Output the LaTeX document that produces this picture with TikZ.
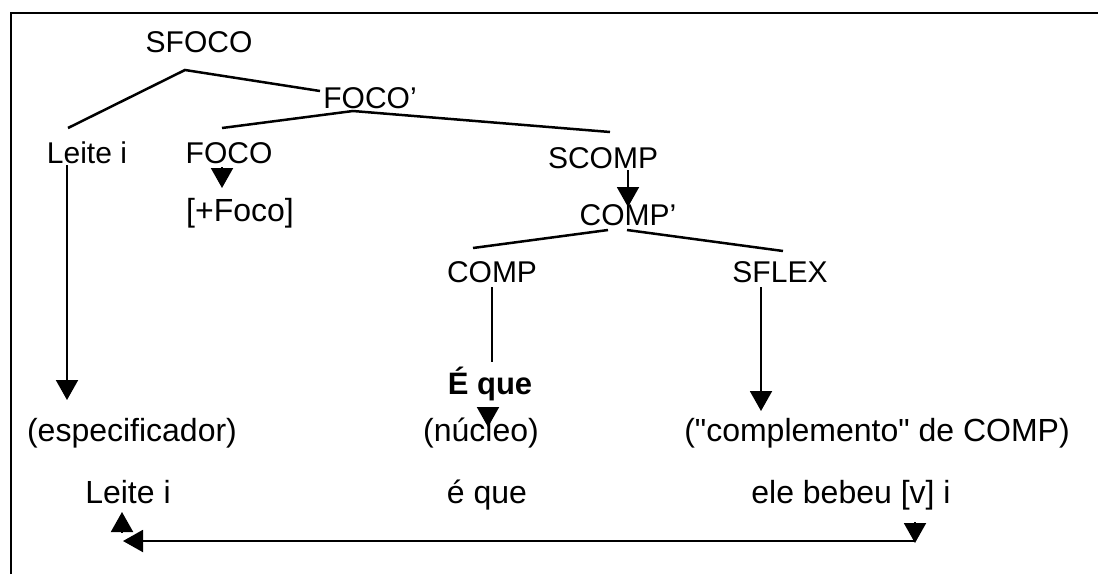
\documentclass[tikz,border=0pt]{standalone}
\usepackage{fontspec}
\setmainfont{Liberation Sans}[Ligatures=TeXOff]
\usetikzlibrary{arrows.meta}
\begin{document}
\begin{tikzpicture}[x=1pt,y=-1pt,
  lbl/.style={inner sep=0pt, anchor=base, font=\fontsize{30}{36}\selectfont},
  lbw/.style={inner sep=0pt, anchor=base, font=\fontsize{32}{38}\selectfont},
  edge/.style={line width=2.5pt},
  arr/.style={line width=2pt, -{Triangle[length=20pt,width=22pt]}},
  frame/.style={line width=2.6pt}]
\useasboundingbox (0,0) rectangle (1098,574);
\fill[white] (0,0) rectangle (1098,574);
\coordinate (fbl) at (11,574);
\coordinate (ftl) at (11,13);
\coordinate (ftr) at (1098,13);
\draw[frame] (fbl) -- (ftl) -- (ftr);

% labels
\node[lbl] (sfoco) at (199,52) {SFOCO};
\node[lbl] (focop) at (370,108) {FOCO’};
\node[lbl] (leite1) at (87,163) {Leite i};
\node[lbl] (foco) at (229,163) {FOCO};
\node[lbl] (scomp) at (603,168) {SCOMP};
\node[lbw] (plusfoco) at (240,221) {[+Foco]};
\node[lbl] (compp) at (628,225) {COMP’};
\node[lbl] (comp) at (492,282) {COMP};
\node[lbl] (sflex) at (780,282) {SFLEX};
\node[lbw, font=\fontsize{31}{36}\selectfont\bfseries] (eque) at (490,394) {É que};
\node[lbw] (espec) at (132,441) {(especificador)};
\node[lbw] (nucleo) at (481,441) {(núcleo)};
\node[lbw] (complemento) at (877,441) {("complemento" de COMP)};
\node[lbw] (leite2) at (128,503) {Leite i};
\node[lbw] (eque2) at (487,503) {é que};
\node[lbw] (ele) at (851,503) {ele bebeu [v] i};

% tree branch points
\coordinate (sfoco-b) at (185,70);
\coordinate (leite1-t) at (68,128);
\coordinate (focop-l) at (320,91);
\coordinate (focop-b) at (353,111);
\coordinate (foco-t) at (222,128);
\coordinate (scomp-t) at (610,132);
\coordinate (compp-bl) at (608,230);
\coordinate (compp-br) at (627,230);
\coordinate (comp-t) at (473,248);
\coordinate (sflex-t) at (783,251);

\draw[edge] (leite1-t) -- (sfoco-b) -- (focop-l);
\draw[edge] (foco-t) -- (focop-b) -- (scomp-t);
\draw[edge] (comp-t) -- (compp-bl);
\draw[edge] (compp-br) -- (sflex-t);

% vertical arrows
\coordinate (leite1-d) at (67,165);
\coordinate (espec-u) at (67,400);
\draw[arr] (leite1-d) -- (espec-u);

\coordinate (foco-d) at (222,167);
\coordinate (plusfoco-u) at (222,188);
\draw[arr] (foco-d) -- (plusfoco-u);

\coordinate (scomp-d) at (628,170);
\coordinate (compp-u) at (628,207);
\draw[arr] (scomp-d) -- (compp-u);

\coordinate (comp-d) at (492,287);
\coordinate (eque-u) at (492,362);
\draw[arr, -] (comp-d) -- (eque-u);

\coordinate (sflex-d) at (761,287);
\coordinate (complemento-u) at (761,411);
\draw[arr] (sflex-d) -- (complemento-u);

\coordinate (eque-d) at (488,407);
\coordinate (nucleo-u) at (488,427);
\draw[arr] (eque-d) -- (nucleo-u);

% bottom movement arrow
\coordinate (leite2-s) at (122,533);
\coordinate (leite2-d) at (122,512);
\draw[arr] (leite2-s) -- (leite2-d);
\coordinate (ele-d) at (915,522);
\coordinate (ele-e) at (915,543);
\draw[arr] (ele-d) -- (ele-e);
\coordinate (trace-r) at (915,541);
\coordinate (trace-l) at (123,541);
\draw[arr] (trace-r) -- (trace-l);
\end{tikzpicture}
\end{document}
